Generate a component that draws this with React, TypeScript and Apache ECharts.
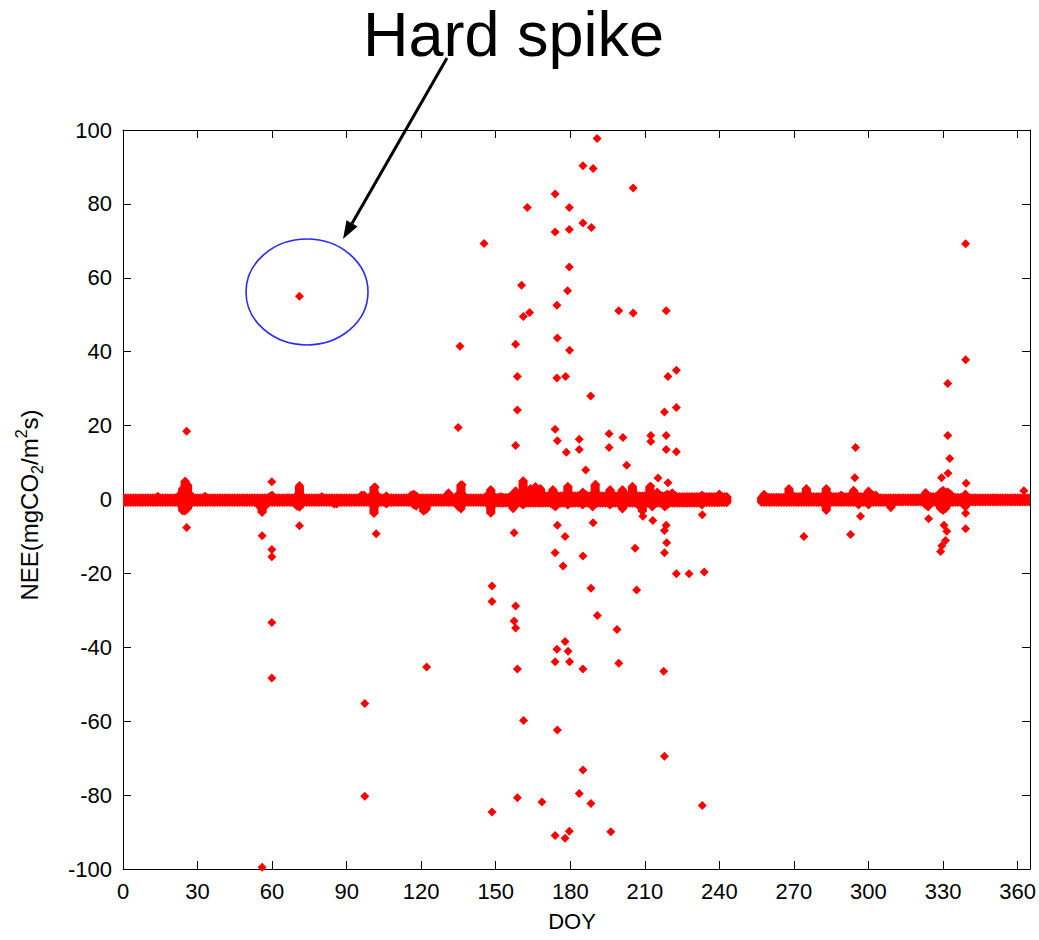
import React, { useEffect, useRef } from 'react';
import * as echarts from 'echarts';

// Axis tick labels
const doyTicks = [0, 30, 60, 90, 120, 150, 180, 210, 240, 270, 300, 330, 360];
const neeTicks = [-100, -80, -60, -40, -20, 0, 20, 40, 60, 80, 100];

// Daily upper / lower extent of the dense near-zero NEE record (index = DOY, null = no data)
const dailyHigh: (number | null)[] = [
  0.5, 0.5, 0.5, 0.5, 0.5, 0.5, 0.5, 0.5, 0.5, 0.5, // 0
  0.5, 0.5, 0.5, 0.5, 0.9, 0.5, 0.5, 0.5, 0.5, 0.5, // 10
  0.5, 0.5, 0.5, 1.5, 3.0, 5.0, 4.0, 1.5, 0.5, 0.5, // 20
  0.5, 0.5, 0.5, 0.9, 0.5, 0.5, 0.5, 0.5, 0.5, 0.5, // 30
  0.5, 0.5, 0.5, 0.5, 0.5, 0.5, 0.5, 0.5, 0.5, 0.5, // 40
  0.5, 0.5, 0.5, 0.5, 0.5, 0.5, 0.5, 0.5, 0.5, 0.8, // 50
  1.2, 0.5, 0.5, 0.5, 0.5, 0.5, 0.5, 0.5, 0.5, 0.5, // 60
  1.2, 3.5, 1.0, 0.5, 0.5, 0.5, 0.5, 0.5, 0.5, 0.5, // 70
  0.8, 0.5, 0.5, 0.5, 0.5, 0.5, 0.5, 0.5, 0.5, 0.5, // 80
  0.5, 0.5, 0.5, 0.5, 0.5, 0.5, 1.2, 1.2, 0.5, 0.5, // 90
  1.2, 3.3, 1.5, 0.5, 0.5, 0.5, 1.0, 0.5, 0.5, 0.5, // 100
  0.5, 0.5, 0.5, 0.5, 0.5, 0.5, 1.2, 1.5, 1.0, 0.5, // 110
  0.5, 0.5, 0.5, 0.5, 0.5, 0.5, 0.5, 0.5, 0.5, 0.5, // 120
  0.5, 1.8, 0.5, 0.5, 0.5, 1.5, 4.0, 1.2, 0.5, 0.5, // 130
  0.5, 0.5, 0.5, 0.5, 0.5, 0.5, 0.5, 1.5, 2.7, 1.0, // 140
  0.6, 0.6, 0.8, 0.6, 0.6, 0.6, 1.0, 1.5, 2.4, 1.0, // 150
  1.5, 5.1, 1.5, 1.0, 3.0, 2.0, 3.5, 2.0, 3.0, 1.0, // 160
  1.0, 1.0, 1.0, 2.7, 1.5, 1.0, 1.0, 1.0, 1.0, 3.6, // 170
  1.5, 1.0, 1.0, 1.0, 1.0, 2.0, 1.5, 1.0, 1.0, 1.0, // 180
  4.0, 1.5, 1.0, 1.0, 1.0, 1.0, 2.7, 1.0, 1.0, 1.0, // 190
  1.5, 2.7, 1.0, 1.0, 1.0, 3.6, 1.5, 1.0, 1.0, 1.0, // 200
  1.0, 1.0, 3.5, 1.5, 1.0, 2.0, 1.0, 1.0, 1.0, 1.5, // 210
  1.0, 1.8, 1.2, 0.8, 0.8, 0.8, 0.8, 0.8, 0.8, 0.8, // 220
  0.8, 0.8, 0.8, 1.2, 0.8, 0.8, 0.8, 0.8, 0.8, 0.8, // 230
  1.5, 0.8, 0.8, 0.8, null, null, null, null, null, null, // 240
  null, null, null, null, null, null, null, 0.6, 1.4, 0.6, // 250
  0.6, 0.6, 0.6, 0.6, 0.6, 0.6, 0.6, 0.6, 3.0, 1.5, // 260
  0.8, 0.8, 0.8, 0.8, 1.5, 3.0, 1.5, 0.8, 0.8, 0.8, // 270
  0.8, 0.8, 0.8, 3.0, 1.5, 0.8, 0.8, 0.8, 0.8, 1.2, // 280
  0.8, 0.8, 0.8, 0.8, 2.5, 1.5, 0.8, 0.8, 0.8, 0.8, // 290
  2.3, 1.5, 1.2, 1.2, 0.5, 0.5, 0.5, 0.5, 0.5, 0.5, // 300
  0.5, 0.5, 0.5, 0.5, 0.5, 0.5, 0.5, 0.5, 0.5, 0.5, // 310
  0.5, 0.5, 0.5, 1.9, 0.8, 0.8, 0.8, 0.8, 0.8, 2.0, // 320
  2.5, 2.0, 2.0, 1.5, 0.6, 0.6, 0.6, 0.6, 0.6, 1.5, // 330
  0.5, 0.5, 0.5, 0.5, 0.5, 0.5, 0.5, 0.5, 0.5, 0.5, // 340
  0.5, 0.5, 0.5, 0.5, 0.5, 0.5, 0.5, 0.5, 0.5, 0.5, // 350
  0.5, 0.5, 0.5, 0.5, 0.5, 0.5, // 360
];

const dailyLow: (number | null)[] = [
  -0.8, -0.8, -0.8, -0.8, -0.8, -0.8, -0.8, -0.8, -0.8, -0.8, // 0
  -0.8, -0.8, -0.8, -0.8, -0.8, -0.8, -0.8, -0.8, -0.8, -0.8, // 10
  -0.8, -0.8, -0.8, -1.5, -3.1, -3.1, -2.5, -1.5, -0.8, -0.8, // 20
  -0.8, -0.8, -0.8, -0.8, -0.8, -0.8, -0.8, -0.8, -0.8, -0.8, // 30
  -0.8, -0.8, -0.8, -0.8, -0.8, -0.8, -0.8, -0.8, -0.8, -0.8, // 40
  -0.8, -0.8, -0.8, -0.8, -0.8, -2.0, -3.5, -2.0, -0.8, -0.8, // 50
  -0.8, -0.8, -0.8, -0.8, -0.8, -0.8, -0.8, -0.8, -0.8, -0.8, // 60
  -1.8, -2.1, -0.8, -0.8, -0.8, -0.8, -0.8, -0.8, -0.8, -0.8, // 70
  -0.8, -0.8, -0.8, -0.8, -0.8, -1.2, -1.2, -0.8, -0.8, -0.8, // 80
  -0.8, -0.8, -0.8, -0.8, -0.8, -0.8, -0.8, -0.8, -0.8, -0.8, // 90
  -0.8, -3.8, -1.5, -0.8, -0.8, -0.8, -1.2, -0.8, -0.8, -0.8, // 100
  -0.8, -0.8, -0.8, -0.8, -0.8, -0.8, -0.8, -1.5, -1.8, -0.8, // 110
  -0.8, -3.2, -2.7, -0.8, -0.8, -0.8, -0.8, -0.8, -0.8, -0.8, // 120
  -0.8, -0.8, -0.8, -0.8, -0.8, -2.0, -2.6, -0.8, -0.8, -0.8, // 130
  -0.8, -0.8, -0.8, -0.8, -0.8, -0.8, -0.8, -1.5, -3.7, -1.2, // 140
  -1.0, -1.0, -1.0, -1.0, -1.0, -1.0, -1.0, -2.5, -1.5, -1.0, // 150
  -1.0, -1.5, -1.0, -1.0, -1.0, -1.0, -1.0, -1.0, -1.0, -1.0, // 160
  -1.0, -1.0, -1.0, -1.5, -2.0, -1.0, -1.0, -1.0, -1.0, -1.5, // 170
  -1.0, -1.0, -1.0, -1.0, -1.0, -1.5, -1.0, -1.0, -1.0, -2.0, // 180
  -1.0, -1.0, -1.0, -1.0, -1.0, -1.0, -1.5, -1.0, -1.0, -1.0, // 190
  -1.5, -2.6, -1.0, -1.0, -1.0, -1.0, -1.0, -1.0, -2.0, -3.2, // 200
  -1.0, -1.0, -1.0, -2.0, -1.0, -1.0, -1.0, -1.0, -2.0, -1.5, // 210
  -1.0, -1.0, -1.0, -1.0, -1.0, -1.0, -1.0, -1.0, -1.0, -1.0, // 220
  -1.0, -1.0, -1.0, -1.5, -0.9, -0.9, -0.9, -0.9, -0.9, -0.9, // 230
  -0.9, -0.9, -0.9, -0.9, null, null, null, null, null, null, // 240
  null, null, null, null, null, null, null, -0.8, -0.8, -0.8, // 250
  -0.8, -0.8, -0.8, -0.8, -0.8, -0.8, -0.8, -0.8, -0.8, -0.8, // 260
  -0.8, -0.8, -0.8, -0.8, -0.8, -0.8, -0.8, -0.8, -0.8, -0.8, // 270
  -0.8, -0.8, -0.8, -3.0, -0.8, -0.8, -0.8, -0.8, -0.8, -0.8, // 280
  -0.8, -0.8, -0.8, -0.8, -0.8, -0.8, -1.5, -0.8, -0.8, -0.8, // 290
  -1.5, -0.8, -0.8, -0.8, -0.8, -0.8, -0.8, -0.8, -0.8, -2.2, // 300
  -0.7, -0.7, -0.7, -0.7, -0.7, -0.7, -0.7, -0.7, -0.7, -0.7, // 310
  -0.7, -0.7, -0.7, -1.5, -2.0, -0.8, -0.8, -0.8, -0.8, -2.5, // 320
  -3.0, -2.5, -1.5, -0.8, -0.8, -0.8, -0.8, -0.8, -0.8, -2.0, // 330
  -1.0, -0.7, -0.7, -0.7, -0.7, -0.7, -0.7, -0.7, -0.7, -0.7, // 340
  -0.7, -0.7, -0.7, -0.7, -0.7, -0.7, -0.7, -0.7, -0.7, -0.7, // 350
  -0.7, -0.7, -0.7, -0.7, -0.7, -0.7, // 360
];

// Isolated NEE values standing out from the near-zero record: [DOY, NEE]
const spikesWinterSpring: [number, number][] = [
  [25.6, 18.5], [25.6, -7.6], [56.0, -9.8], [56.0, -99.5],
  [59.9, 4.8], [59.9, -13.5], [59.9, -15.5], [59.9, -33.3], [59.9, -48.3],
  [71.0, 55.0], [71.0, 3.8], [71.0, -7.1],
  [97.3, -55.2], [97.3, -80.3], [101.5, 3.4], [101.9, -9.3],
  [122.2, -45.3], [135.6, 41.5], [134.9, 19.5], [136.5, 4.0],
  [145.3, 69.3], [148.5, -23.4], [148.5, -27.6], [148.5, -84.6],
];

const spikesSummerPositive: [number, number][] = [
  [190.8, 97.7], [185.1, 90.3], [189.2, 89.6], [205.3, 84.3], [173.9, 82.7],
  [162.7, 79.0], [179.6, 79.0], [173.9, 72.4], [179.6, 73.1], [185.1, 74.8],
  [188.5, 73.6], [179.6, 62.9], [160.4, 58.0], [178.9, 56.5], [174.6, 52.6],
  [161.1, 49.5], [163.6, 50.6], [199.5, 51.1], [205.3, 50.5], [218.6, 51.1],
  [158.0, 42.0], [174.8, 43.7], [179.7, 40.4], [158.7, 33.3], [174.6, 32.9],
  [178.1, 33.3], [219.3, 33.3], [222.7, 35.0], [188.2, 28.0], [158.7, 24.2],
  [217.9, 23.7], [222.7, 24.9], [173.9, 19.0], [158.0, 14.6], [174.8, 15.9],
  [183.6, 16.3], [178.4, 12.8], [183.6, 13.5], [195.6, 17.8], [201.2, 16.8],
  [195.6, 14.1], [212.4, 17.3], [212.4, 15.7], [218.6, 17.3], [218.6, 13.5],
  [222.7, 12.9], [186.2, 8.0], [202.7, 9.3], [215.3, 5.8], [219.3, 4.5],
  [161.1, 5.0], [190.2, 4.1], [212.4, 3.6],
];

const spikesSummerNegative: [number, number][] = [
  [174.8, -7.0], [189.2, -6.3], [157.4, -9.0], [177.9, -10.0], [209.2, -4.5],
  [213.2, -5.7], [218.6, -7.0], [217.9, -8.4], [218.8, -11.7], [217.9, -14.4],
  [233.1, -4.1], [206.1, -13.2], [173.9, -14.4], [185.1, -15.3], [177.1, -18.0],
  [222.7, -20.1], [227.8, -20.1], [233.9, -19.6], [188.3, -24.0], [206.7, -24.5],
  [158.0, -28.8], [190.9, -31.4], [157.4, -32.9], [158.0, -34.8], [198.8, -35.2],
  [177.9, -38.4], [174.6, -40.5], [179.1, -41.1], [173.9, -43.9], [179.7, -43.9],
  [158.7, -45.9], [185.1, -45.9], [199.5, -44.3], [217.6, -46.5], [161.2, -59.8],
  [174.8, -62.4], [217.9, -69.5], [185.1, -73.2], [158.7, -80.7], [168.6, -81.9],
  [183.6, -79.6], [188.3, -82.3], [233.1, -82.8], [173.9, -90.9], [177.9, -91.7],
  [179.6, -89.8], [196.3, -89.9],
];

const spikesAutumn: [number, number][] = [
  [274.0, -10.0], [292.8, -9.5], [294.8, 14.1], [294.5, 5.9], [296.8, -4.5],
  [339.1, 69.2], [339.1, 37.8], [331.9, 31.4], [331.9, 17.3], [332.7, 11.1],
  [332.0, 7.1], [329.4, 5.9], [339.3, 4.4], [324.2, -5.2], [330.4, -7.0],
  [331.5, -8.6], [339.1, -3.7], [339.1, -7.9], [329.5, -12.5], [329.0, -14.1],
  [331.0, -11.1], [362.5, 2.4],
];

const FONT = "'Liberation Sans', Arial, Helvetica, sans-serif";
const RED = '#ff0000';
const MARK = 9;

export default function App() {
  const ref = useRef<HTMLDivElement>(null);

  useEffect(() => {
    if (!ref.current) return;
    const chart = echarts.init(ref.current, undefined, { renderer: 'svg' });

    const bandData = dailyHigh
      .map((h, day) => (h == null || dailyLow[day] == null ? null : [day, h, dailyLow[day] as number]))
      .filter((d): d is number[] => d !== null);

    const spikes = [
      ...spikesWinterSpring,
      ...spikesSummerPositive,
      ...spikesSummerNegative,
      ...spikesAutumn,
    ];

    const doyLabel = (v: number) => (doyTicks.includes(v) ? String(v) : '');
    const neeLabel = (v: number) => (neeTicks.includes(v) ? String(v) : '');

    const axisLine = { show: true, onZero: false, lineStyle: { color: '#000', width: 1 } };
    const axisTick = { show: true, inside: true, length: 8, lineStyle: { color: '#000', width: 1 } };
    const labelStyle = { fontSize: 22, color: '#000', fontFamily: FONT, margin: 11 };

    const option: any = {
      animation: false,
      backgroundColor: '#ffffff',
      grid: { left: 123, right: 9, top: 130, bottom: 71, containLabel: false, outerBoundsMode: 'none' },
      xAxis: [
        {
          type: 'value', position: 'bottom', min: 0, max: 365, interval: 30,
          axisLine, axisTick, splitLine: { show: false },
          axisLabel: { ...labelStyle, formatter: doyLabel },
        },
        {
          type: 'value', position: 'top', min: 0, max: 365, interval: 30,
          axisLine, axisTick, splitLine: { show: false },
          axisLabel: { show: false },
        },
      ],
      yAxis: [
        {
          type: 'value', position: 'left', min: -100, max: 100, interval: 20,
          axisLine, axisTick, splitLine: { show: false },
          axisLabel: { ...labelStyle, formatter: neeLabel },
        },
        {
          type: 'value', position: 'right', min: -100, max: 100, interval: 20,
          axisLine, axisTick, splitLine: { show: false },
          axisLabel: { show: false },
        },
      ],
      series: [
        {
          type: 'custom',
          name: 'daily band',
          xAxisIndex: 0,
          yAxisIndex: 0,
          clip: true,
          encode: { x: 0, y: [1, 2] },
          data: bandData,
          renderItem: (_params: any, api: any) => {
            const day = api.value(0);
            const top = api.coord([day, api.value(1)]);
            const bot = api.coord([day, api.value(2)]);
            const r = MARK / 2;
            return {
              type: 'polygon',
              shape: {
                points: [
                  [top[0], top[1] - r],
                  [top[0] + r, top[1]],
                  [bot[0] + r, bot[1]],
                  [bot[0], bot[1] + r],
                  [bot[0] - r, bot[1]],
                  [top[0] - r, top[1]],
                ],
              },
              style: { fill: RED },
            };
          },
        },
        {
          type: 'scatter',
          name: 'NEE',
          xAxisIndex: 0,
          yAxisIndex: 0,
          symbol: 'diamond',
          symbolSize: MARK,
          itemStyle: { color: RED, opacity: 1 },
          data: spikes,
        },
      ],
      graphic: [
        {
          type: 'text', x: 363, y: 34,
          style: {
            text: 'Hard spike', font: `63px ${FONT}`, fill: '#000',
            align: 'left', verticalAlign: 'middle', textAlign: 'left', textVerticalAlign: 'middle',
          },
        },
        {
          type: 'line',
          shape: { x1: 447, y1: 58, x2: 352, y2: 223.4 },
          style: { stroke: '#000', lineWidth: 3 },
        },
        {
          type: 'polygon',
          shape: { points: [[343, 239], [357.5, 226.6], [346.5, 220.2]] },
          style: { fill: '#000' },
        },
        {
          type: 'ellipse',
          shape: { cx: 307, cy: 292, rx: 61, ry: 53 },
          style: { fill: 'none', stroke: '#2a2aff', lineWidth: 1.6 },
        },
        {
          type: 'text', x: 572, y: 921,
          style: {
            text: 'DOY', font: `22px ${FONT}`, fill: '#000',
            align: 'center', verticalAlign: 'middle', textAlign: 'center', textVerticalAlign: 'middle',
          },
        },
        {
          type: 'text', x: 29, y: 505, rotation: Math.PI / 2,
          style: {
            text: 'NEE(mgCO{sub|2}/m{sup|2}s)',
            font: `24px ${FONT}`, fill: '#000', lineHeight: 32,
            align: 'center', verticalAlign: 'middle', textAlign: 'center', textVerticalAlign: 'middle',
            rich: {
              sub: { fontSize: 16, fontFamily: FONT, fill: '#000', verticalAlign: 'bottom', lineHeight: 16 },
              sup: { fontSize: 16, fontFamily: FONT, fill: '#000', verticalAlign: 'top', lineHeight: 16 },
            },
          },
        },
      ],
    };

    chart.setOption(option);
    return () => chart.dispose();
  }, []);

  return (
    <div
      ref={ref}
      style={{ position: 'fixed', left: 0, top: 0, width: 1039, height: 940, background: '#fff' }}
    />
  );
}
